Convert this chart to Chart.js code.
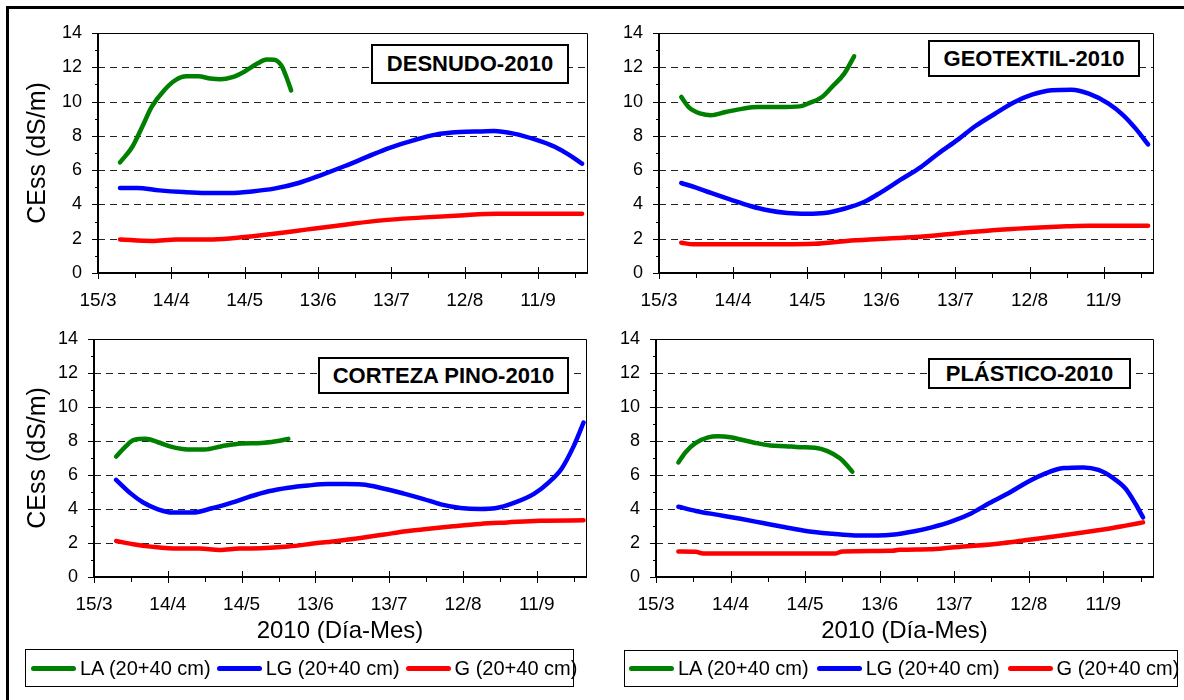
<!DOCTYPE html>
<html><head><meta charset="utf-8">
<script src="https://cdn.jsdelivr.net/npm/chart.js@4.4.1/dist/chart.umd.min.js"></script>
<style>
html,body{margin:0;padding:0;background:#fff;width:1184px;height:700px;overflow:hidden;font-family:"Liberation Sans",Arial,sans-serif;}
.frame{position:absolute;left:6px;top:6px;width:1200px;height:720px;border-left:3px solid #000;border-top:3px solid #000;}
canvas{position:absolute;}
.tbox{position:absolute;background:#fff;border:2px solid #000;box-sizing:border-box;display:flex;align-items:center;justify-content:center;font-weight:bold;font-size:22px;color:#000;white-space:nowrap;}
.legend{position:absolute;border:1.5px solid #000;box-sizing:border-box;display:flex;align-items:center;font-size:20px;color:#000;white-space:nowrap;}
.item{display:flex;align-items:center;}
.sw{display:inline-block;width:45px;height:5px;border-radius:2.5px;margin-right:4px;}
</style></head>
<body>
<div class="frame"></div>
<canvas id="c1" width="592" height="312" style="left:0;top:0;width:592px;height:312px"></canvas>
<canvas id="c2" width="592" height="312" style="left:592px;top:0;width:592px;height:312px"></canvas>
<canvas id="c3" width="592" height="388" style="left:0;top:312px;width:592px;height:388px"></canvas>
<canvas id="c4" width="592" height="388" style="left:592px;top:312px;width:592px;height:388px"></canvas>
<div class="tbox" style="left:371px;top:44px;width:198px;height:40px">DESNUDO-2010</div>
<div class="tbox" style="left:928px;top:40px;width:212px;height:37px">GEOTEXTIL-2010</div>
<div class="tbox" style="left:318px;top:357px;width:251px;height:37px">CORTEZA PINO-2010</div>
<div class="tbox" style="left:928px;top:358px;width:203px;height:31px">PLÁSTICO-2010</div>
<div class="legend" id="lg1" style="left:25px;top:649px;width:549px;height:38px;padding-left:5px;gap:6px"></div>
<div class="legend" id="lg2" style="left:624px;top:650px;width:554px;height:37px;padding-left:4px;gap:8px"></div>
<script>
// ---- data (x = days since 15/3/2010, y = CEss dS/m) ----
const xMajorDays = [0, 30, 60, 90, 120, 150, 180];
const xTickLabels = ['15/3', '14/4', '14/5', '13/6', '13/7', '12/8', '11/9'];
const xMinorDays = [15, 45, 75, 105, 135, 165, 195];
const yMajor = [0, 2, 4, 6, 8, 10, 12, 14];
const yMinor = [1, 3, 5, 7, 9, 11, 13];
const seriesNames = ['LA (20+40 cm)', 'LG (20+40 cm)', 'G (20+40 cm)'];
const panelTitles = ['DESNUDO-2010', 'GEOTEXTIL-2010', 'CORTEZA PINO-2010', 'PLÁSTICO-2010'];

const desLA = [[9,6.45],[14,7.35],[18,8.5],[22,9.7],[27,10.65],[32,11.28],[36,11.47],[41,11.47],[46,11.34],[50,11.3],[55,11.43],[60,11.76],[65,12.2],[69,12.45],[72,12.44],[75,12.1],[77,11.45],[79,10.65]];
const desLG = [[9,4.96],[16,4.96],[25,4.82],[35,4.72],[44,4.67],[54,4.67],[63,4.76],[72,4.92],[82,5.25],[91,5.7],[101,6.24],[110,6.77],[119,7.29],[129,7.74],[138,8.07],[148,8.22],[157,8.26],[162,8.28],[170,8.13],[179,7.78],[187,7.35],[193,6.86],[198,6.38]];
const desG  = [[9,1.96],[22,1.87],[32,1.96],[47,1.96],[60,2.1],[72,2.29],[85,2.53],[101,2.82],[116,3.07],[132,3.23],[148,3.36],[163,3.46],[179,3.46],[198,3.46]];

const geoLA = [[9,10.27],[12,9.68],[17,9.29],[21,9.2],[27,9.39],[34,9.59],[40,9.68],[49,9.68],[57,9.72],[61,9.92],[66,10.27],[70,10.85],[75,11.63],[79,12.64]];
const geoLG = [[9,5.25],[15,4.98],[21,4.67],[29,4.28],[37,3.91],[44,3.66],[52,3.5],[60,3.46],[67,3.5],[75,3.75],[83,4.14],[90,4.72],[98,5.46],[106,6.18],[113,6.96],[121,7.78],[128,8.56],[136,9.29],[144,9.97],[151,10.4],[159,10.66],[167,10.69],[174,10.46],[182,9.88],[188,9.2],[193,8.42],[198,7.5]];
const geoG  = [[9,1.77],[14,1.67],[34,1.67],[63,1.71],[76,1.87],[89,1.98],[104,2.1],[119,2.29],[135,2.49],[150,2.62],[165,2.72],[174,2.76],[198,2.76]];

const corLA = [[9,7.08],[13,7.69],[16,8.04],[21,8.12],[26,7.92],[32,7.63],[38,7.5],[45,7.5],[52,7.69],[60,7.85],[68,7.88],[74,7.98],[79,8.12]];
const corLG = [[9,5.71],[15,4.9],[20,4.38],[26,3.98],[32,3.79],[40,3.79],[48,4.04],[56,4.37],[63,4.71],[71,5.04],[79,5.25],[87,5.38],[95,5.46],[102,5.46],[109,5.44],[118,5.19],[126,4.9],[134,4.58],[141,4.27],[149,4.06],[157,4.0],[163,4.04],[171,4.37],[179,4.9],[185,5.58],[190,6.35],[195,7.69],[199,9.08]];
const corG  = [[9,2.12],[16,1.92],[24,1.77],[34,1.67],[43,1.67],[51,1.58],[59,1.67],[68,1.69],[79,1.79],[90,1.98],[99,2.12],[109,2.31],[118,2.5],[127,2.69],[137,2.85],[146,2.98],[157,3.12],[168,3.21],[181,3.31],[199,3.33]];

const plaLA = [[9,6.73],[12,7.35],[16,7.88],[21,8.21],[25,8.27],[30,8.21],[34,8.08],[40,7.88],[46,7.73],[52,7.69],[58,7.63],[64,7.6],[69,7.4],[74,6.98],[77,6.54],[79,6.19]];
const plaLG = [[9,4.13],[16,3.88],[25,3.65],[34,3.42],[43,3.17],[52,2.92],[61,2.69],[71,2.54],[80,2.44],[89,2.44],[96,2.5],[104,2.69],[111,2.92],[119,3.27],[127,3.75],[134,4.33],[142,4.94],[149,5.54],[157,6.1],[164,6.4],[172,6.44],[178,6.29],[184,5.81],[189,5.19],[193,4.29],[196,3.5]];
const plaG  = [[9,1.5],[16,1.48],[19,1.38],[49,1.38],[72,1.38],[75,1.5],[95,1.54],[98,1.6],[110,1.63],[119,1.73],[128,1.83],[140,2.0],[149,2.17],[161,2.4],[171,2.6],[180,2.79],[189,3.02],[196,3.21]];

// ---- styling ----
const FONT = '"Liberation Sans", Arial, sans-serif';
const seriesColors = ['#008000', '#0000FF', '#FF0000'];

const framePlugin = {
  id: 'frame',
  beforeDatasetsDraw(chart) {
    const {ctx, chartArea: a, scales: {y}} = chart;
    ctx.save();
    ctx.strokeStyle = '#222'; ctx.lineWidth = 1; ctx.setLineDash([7, 5]);
    yMajor.forEach(v => {
      if (v <= 0 || v >= 14) return;
      const py = Math.round(y.getPixelForValue(v)) + 0.5;
      ctx.beginPath(); ctx.moveTo(a.left, py); ctx.lineTo(a.right, py); ctx.stroke();
    });
    ctx.restore();
  },
  afterDatasetsDraw(chart) {
    const {ctx, chartArea: a, scales: {x, y}} = chart;
    const L = Math.round(a.left), R = Math.round(a.right), T = Math.round(a.top), B = Math.round(a.bottom);
    const line = (x1, y1, x2, y2) => { ctx.beginPath(); ctx.moveTo(x1, y1); ctx.lineTo(x2, y2); ctx.stroke(); };
    ctx.save();
    ctx.strokeStyle = '#000'; ctx.setLineDash([]);
    ctx.lineWidth = 1;
    ctx.beginPath(); ctx.moveTo(L, T + 0.5); ctx.lineTo(R + 0.5, T + 0.5); ctx.lineTo(R + 0.5, B); ctx.stroke();
    ctx.lineWidth = 2;
    ctx.beginPath(); ctx.moveTo(L, T); ctx.lineTo(L, B); ctx.lineTo(R + 1, B); ctx.stroke();
    ctx.lineWidth = 1;
    yMajor.forEach(v => { const py = Math.round(y.getPixelForValue(v)) + 0.5; line(L - 6, py, L, py); });
    yMinor.forEach(v => { const py = Math.round(y.getPixelForValue(v)) + 0.5; line(L - 3, py, L, py); });
    xMajorDays.forEach(d => { const px = Math.round(x.getPixelForValue(d)) + 0.5; line(px, B - 6, px, B + 6); });
    xMinorDays.forEach(d => { const px = Math.round(x.getPixelForValue(d)) + 0.5; line(px, B, px, B + 5); });
    ctx.restore();
  }
};

function makeChart(id, series, cfg) {
  return new Chart(document.getElementById(id), {
    type: 'line',
    data: {
      datasets: series.map((s, i) => ({
        label: seriesNames[i],
        data: s.map(p => ({x: p[0], y: p[1]})),
        borderColor: seriesColors[i], backgroundColor: seriesColors[i],
        borderWidth: 4.5, pointRadius: 0, fill: false,
        cubicInterpolationMode: 'monotone',
        borderCapStyle: 'round', borderJoinStyle: 'round'
      }))
    },
    options: {
      responsive: false, animation: false, events: [],
      layout: {padding: cfg.pad},
      plugins: {legend: {display: false}, tooltip: {enabled: false}, title: {display: false}},
      scales: {
        x: {
          type: 'linear', position: 'bottom', min: 0, max: 200,
          afterBuildTicks: s => { s.ticks = xMajorDays.map(v => ({value: v})); },
          afterFit: s => { s.height = cfg.xh; },
          grid: {display: false, drawTicks: false},
          border: {display: false},
          ticks: {autoSkip: false, maxRotation: 0, minRotation: 0, padding: 16, color: '#000',
                  font: {family: FONT, size: 19},
                  callback: v => { const i = xMajorDays.indexOf(v); return i >= 0 ? xTickLabels[i] : ''; }},
          title: {display: cfg.xTitle, text: '2010 (Día-Mes)', color: '#000', font: {family: FONT, size: 24}, padding: 0}
        },
        y: {
          type: 'linear', min: 0, max: 14,
          afterBuildTicks: s => { s.ticks = yMajor.map(v => ({value: v})); },
          afterFit: s => { s.width = cfg.yw; },
          grid: {display: false, drawTicks: false},
          border: {display: false},
          ticks: {padding: 16, color: '#000', font: {family: FONT, size: 18}},
          title: {display: cfg.yTitle, text: 'CEss (dS/m)', color: '#000', font: {family: FONT, size: 25}, padding: {top: 23, bottom: 0}}
        }
      }
    },
    plugins: [framePlugin]
  });
}

makeChart('c1', [desLA, desLG, desG], {pad: {left: 0, right: 5, top: 33, bottom: 0}, yw: 98, xh: 39, xTitle: false, yTitle: true});
makeChart('c2', [geoLA, geoLG, geoG], {pad: {left: 0, right: 31, top: 33, bottom: 0}, yw: 67, xh: 39, xTitle: false, yTitle: false});
makeChart('c3', [corLA, corLG, corG], {pad: {left: 0, right: 6, top: 22, bottom: 54}, yw: 94, xh: 69, xTitle: true, yTitle: true});
makeChart('c4', [plaLA, plaLG, plaG], {pad: {left: 0, right: 31, top: 22, bottom: 54}, yw: 64, xh: 69, xTitle: true, yTitle: false});

// HTML legends built from the series names / colours
['lg1', 'lg2'].forEach(id => {
  const box = document.getElementById(id);
  seriesNames.forEach((n, i) => {
    const it = document.createElement('div'); it.className = 'item';
    const sw = document.createElement('span'); sw.className = 'sw'; sw.style.background = seriesColors[i];
    const t = document.createElement('span'); t.textContent = n;
    it.appendChild(sw); it.appendChild(t); box.appendChild(it);
  });
});
</script>
</body></html>
